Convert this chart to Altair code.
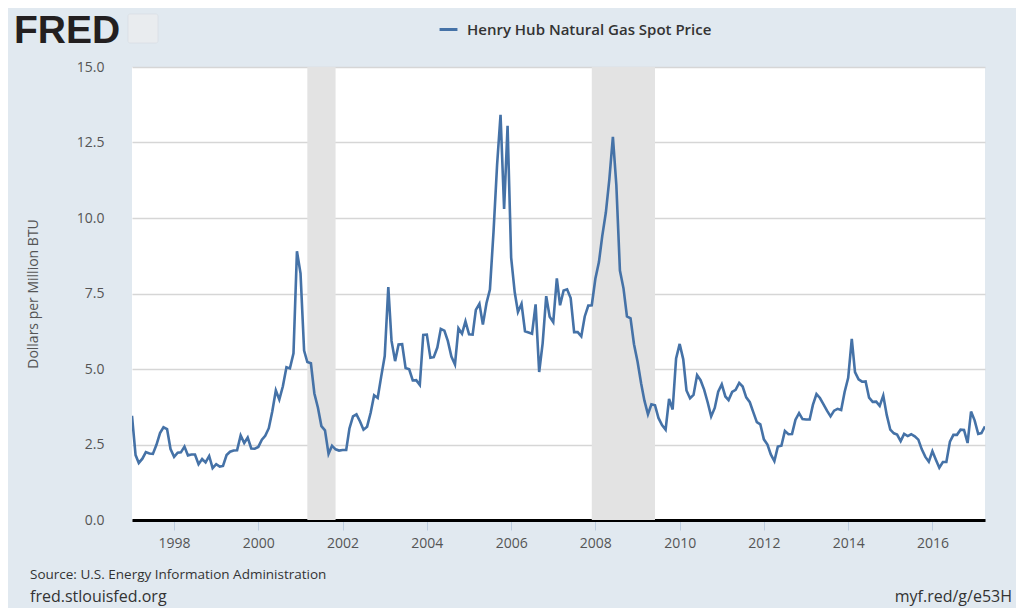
import altair as alt
import pandas as pd

# Monthly Henry Hub spot price, Jan 1997 - Apr 2017 (Dollars per Million BTU)
prices_by_year = {
    1997: [3.45, 2.15, 1.89, 2.03, 2.25, 2.20, 2.19, 2.49, 2.88, 3.07, 3.01, 2.35],
    1998: [2.09, 2.23, 2.24, 2.43, 2.14, 2.17, 2.17, 1.85, 2.02, 1.91, 2.12, 1.72],
    1999: [1.85, 1.77, 1.79, 2.15, 2.26, 2.30, 2.31, 2.80, 2.55, 2.73, 2.37, 2.36],
    2000: [2.42, 2.66, 2.79, 3.04, 3.59, 4.29, 3.99, 4.43, 5.06, 5.02, 5.52, 8.90],
    2001: [8.17, 5.61, 5.23, 5.19, 4.19, 3.72, 3.11, 2.97, 2.19, 2.46, 2.34, 2.30],
    2002: [2.32, 2.32, 3.03, 3.43, 3.50, 3.26, 2.99, 3.09, 3.55, 4.13, 4.04, 4.74],
    2003: [5.43, 7.71, 5.93, 5.26, 5.81, 5.82, 5.03, 4.99, 4.62, 4.63, 4.47, 6.13],
    2004: [6.14, 5.37, 5.39, 5.71, 6.33, 6.27, 5.93, 5.41, 5.15, 6.35, 6.17, 6.58],
    2005: [6.15, 6.14, 6.96, 7.16, 6.47, 7.18, 7.63, 9.53, 11.75, 13.42, 10.30, 13.05],
    2006: [8.69, 7.54, 6.89, 7.16, 6.25, 6.21, 6.17, 7.14, 4.90, 5.85, 7.41, 6.73],
    2007: [6.55, 8.00, 7.11, 7.60, 7.64, 7.35, 6.22, 6.22, 6.08, 6.74, 7.10, 7.11],
    2008: [7.99, 8.54, 9.41, 10.18, 11.27, 12.69, 11.09, 8.26, 7.67, 6.74, 6.68, 5.82],
    2009: [5.24, 4.52, 3.96, 3.50, 3.83, 3.80, 3.38, 3.14, 2.99, 4.01, 3.66, 5.35],
    2010: [5.83, 5.32, 4.29, 4.03, 4.14, 4.80, 4.63, 4.32, 3.89, 3.43, 3.71, 4.25],
    2011: [4.49, 4.09, 3.97, 4.24, 4.31, 4.54, 4.42, 4.06, 3.90, 3.57, 3.24, 3.17],
    2012: [2.67, 2.50, 2.17, 1.95, 2.43, 2.46, 2.95, 2.84, 2.85, 3.32, 3.54, 3.34],
    2013: [3.33, 3.33, 3.81, 4.17, 4.04, 3.83, 3.62, 3.43, 3.62, 3.68, 3.64, 4.24],
    2014: [4.71, 6.00, 4.90, 4.66, 4.58, 4.59, 4.05, 3.91, 3.92, 3.78, 4.12, 3.48],
    2015: [2.99, 2.87, 2.83, 2.61, 2.85, 2.78, 2.84, 2.77, 2.66, 2.34, 2.09, 1.93],
    2016: [2.28, 1.99, 1.73, 1.92, 1.92, 2.59, 2.82, 2.82, 2.99, 2.98, 2.55, 3.59],
    2017: [3.30, 2.85, 2.88, 3.10],
}

recession_starts = ["2001-03-01", "2007-12-01"]
recession_ends = ["2001-11-01", "2009-06-01"]

series_name = "Henry Hub Natural Gas Spot Price"
tick_years = list(range(1998, 2017, 2))
source_text = "Source: U.S. Energy Information Administration"
site_text = "fred.stlouisfed.org"
link_text = "myf.red/g/e53H"
logo_text = "FRED"

rows = []
for yr, vals in prices_by_year.items():
    for m, v in enumerate(vals, start=1):
        rows.append({"date": f"{yr}-{m:02d}-01", "value": v, "series": series_name})
df = pd.DataFrame(rows)
rec = pd.DataFrame({"start": recession_starts, "end": recession_ends})

W, H = 853, 453
FONT = "Open Sans"
BG = "#e1e9f0"

xscale = alt.Scale(domain=[alt.DateTime(year=1997, month=1, date=1),
                           alt.DateTime(year=2017, month=4, date=1)])
yscale = alt.Scale(domain=[0, 15])

recess = alt.Chart(rec).mark_rect(color="#e3e3e3").encode(
    x=alt.X("start:T", scale=xscale),
    x2="end:T",
    y=alt.value(0),
    y2=alt.value(H),
)

line = alt.Chart(df).mark_line(strokeWidth=2.6, clip=True).encode(
    x=alt.X(
        "date:T",
        scale=xscale,
        axis=alt.Axis(
            title=None,
            values=[alt.DateTime(year=y, month=1, date=1) for y in tick_years],
            format="%Y",
            grid=False,
            domain=True,
            domainColor="#000000",
            domainWidth=3,
            ticks=True,
            tickColor="#bccde0",
            tickSize=10,
            tickWidth=1,
            labelFontSize=14,
            labelColor="#555555",
            labelFont=FONT,
            labelPadding=6,
        ),
    ),
    y=alt.Y(
        "value:Q",
        scale=yscale,
        axis=alt.Axis(
            title="Dollars per Million BTU",
            values=[0, 2.5, 5, 7.5, 10, 12.5, 15],
            format=".1f",
            grid=True,
            gridColor="#d6d6d6",
            gridWidth=1.5,
            domain=False,
            ticks=False,
            labelFontSize=14,
            labelColor="#555555",
            labelFont=FONT,
            labelPadding=28,
            titleFont=FONT,
            titleFontSize=14,
            titleFontWeight="normal",
            titleColor="#555555",
            titlePadding=36,
        ),
    ),
    color=alt.Color(
        "series:N",
        scale=alt.Scale(range=["#4572a7"]),
        legend=alt.Legend(
            orient="none",
            legendX=306,
            legendY=-48,
            title=None,
            symbolType="stroke",
            symbolStrokeWidth=3,
            symbolSize=320,
            labelFontSize=15,
            labelFont=FONT,
            labelColor="#333333",
            labelFontWeight=600,
            labelOffset=8,
            labelLimit=0,
        ),
    ),
)

source = alt.Chart(pd.DataFrame({"txt": [source_text]})).mark_text(
    align="left", baseline="middle", font=FONT, color="#333333", fontSize=13.5
).encode(text="txt:N", x=alt.value(-102), y=alt.value(508))

site = alt.Chart(pd.DataFrame({"txt": [site_text]})).mark_text(
    align="left", baseline="middle", font=FONT, color="#333333", fontSize=16
).encode(text="txt:N", x=alt.value(-102), y=alt.value(530))

link = alt.Chart(pd.DataFrame({"txt": [link_text]})).mark_text(
    align="right", baseline="middle", font=FONT, color="#333333", fontSize=16
).encode(text="txt:N", x=alt.value(880), y=alt.value(530))

logo_icon = alt.Chart(pd.DataFrame({"k": [0]})).mark_rect(
    fill="#e9ecef", stroke="#d0d6dc", strokeWidth=0.5, cornerRadius=2
).encode(x=alt.value(-4), x2=alt.value(26), y=alt.value(-53), y2=alt.value(-24))

logo = alt.Chart(pd.DataFrame({"txt": [logo_text]})).mark_text(
    align="left", baseline="alphabetic", font="Liberation Sans", fontWeight="bold",
    fontSize=39, color="#231f20"
).encode(text="txt:N", x=alt.value(-118), y=alt.value(-24))

chart = alt.layer(recess, line, source, site, link, logo_icon, logo).properties(
    width=W,
    height=H,
    background=BG,
    padding={"left": 124, "top": 59, "right": 31, "bottom": 88},
    autosize=alt.AutoSizeParams(type="none"),
).configure_view(fill="white", stroke=None)

chart.save("out.html", embed_options={"renderer": "svg", "actions": False})
